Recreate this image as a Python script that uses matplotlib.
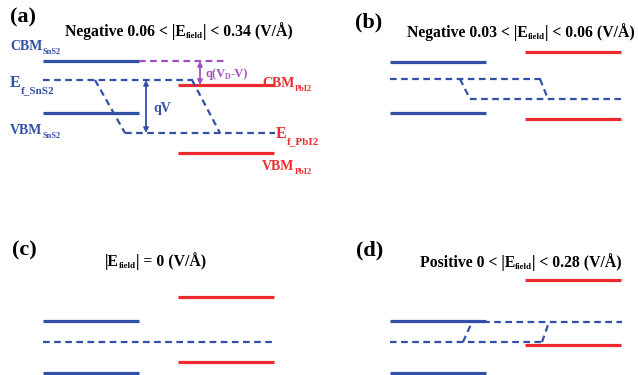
import matplotlib
matplotlib.use('Agg')
import matplotlib.pyplot as plt

plt.rcParams['font.family'] = 'Liberation Serif'
plt.rcParams['font.weight'] = 'bold'

BLUE = '#3350a8'
RED = '#ee2b2e'
MAGENTA = '#a24fc2'

# band levels per panel (a), (b), (c), (d) (pixel units, down = lower energy)
panel_tags = ['(a)', '(b)', '(c)', '(d)']
title_head = ['Negative 0.06 < |E', 'Negative 0.03 < |E', '|E', 'Positive 0 < |E']
title_tail = ['| < 0.34 (V/Å)', '| < 0.06 (V/Å)', '| = 0 (V/Å)', '| < 0.28 (V/Å)']
sns2_cbm = [61, 62, 321, 321]
sns2_ef = [80, 79, 342, 342]
sns2_vbm = [113, 113, 373, 373]
pbi2_cbm = [85, 52, 297, 280]
pbi2_ef = [133, 99, 342, 322]
pbi2_vbm = [153, 119, 362, 345]
# x where the Fermi level bends (left and right bends)
bend_left = [95, 113, 116, 116]
bend_right = [192, 193, 195, 195]
bend_width = [30, 10, 0, 9]

# layout
x_shift = [0, 347, 0, 347]
tag_pos = [(10, 17), (355, 22), (12, 250), (356, 250)]
title_pos = [(65, 36.5), (407, 37), (105, 266), (420, 267)]
left_band = (43, 139)
right_band = (178, 274)

fig = plt.figure(figsize=(6.38, 3.75), dpi=100)
ax = fig.add_axes([0, 0, 1, 1])
ax.set_xlim(0, 638)
ax.set_ylim(375, 0)
ax.axis('off')
renderer = fig.canvas.get_renderer()


def rich(x, y, parts, color='black'):
    # chain text pieces left to right; dy moves a piece down (subscripts)
    for s, size, dy in parts:
        t = ax.text(x, y + dy, s, fontsize=size, color=color, va='baseline', ha='left')
        x += t.get_window_extent(renderer).width


dash = (0, (3, 2))
for i in range(4):
    s = x_shift[i]
    # solid band edges
    ax.plot([left_band[0] + s, left_band[1] + s], [sns2_cbm[i]] * 2, color=BLUE, lw=2.3, solid_capstyle='butt')
    ax.plot([left_band[0] + s, left_band[1] + s], [sns2_vbm[i]] * 2, color=BLUE, lw=2.3, solid_capstyle='butt')
    ax.plot([right_band[0] + s, right_band[1] + s], [pbi2_cbm[i]] * 2, color=RED, lw=2.3, solid_capstyle='butt')
    ax.plot([right_band[0] + s, right_band[1] + s], [pbi2_vbm[i]] * 2, color=RED, lw=2.3, solid_capstyle='butt')

    # Fermi levels
    if sns2_ef[i] == pbi2_ef[i]:
        ax.plot([left_band[0] + s, right_band[1] + s - 1], [sns2_ef[i]] * 2, color=BLUE, lw=1.6, ls=dash)
    else:
        w = bend_width[i]
        ax.plot([left_band[0] + s, bend_right[i] + s + 1], [sns2_ef[i]] * 2, color=BLUE, lw=1.6, ls=dash)
        ax.plot([bend_left[i] + w + s, right_band[1] + s + 1], [pbi2_ef[i]] * 2, color=BLUE, lw=1.6, ls=dash)
        ax.plot([bend_left[i] + s, bend_left[i] + w + s], [sns2_ef[i], pbi2_ef[i]], color=BLUE, lw=1.6, ls=dash)
        ax.plot([bend_right[i] + s, bend_right[i] + w - 2 + s], [sns2_ef[i], pbi2_ef[i]], color=BLUE, lw=1.6, ls=dash)

    ax.text(tag_pos[i][0], tag_pos[i][1], panel_tags[i], fontsize=16, va='center', ha='left')
    rich(title_pos[i][0], title_pos[i][1],
         [(title_head[i], 11.3, 0), ('field', 6.5, 2), (title_tail[i], 11.3, 0)])

# extra annotations in panel (a)
ax.plot([left_band[1], 225], [sns2_cbm[0]] * 2, color=MAGENTA, lw=1.6, ls=dash)
ax.annotate('', xy=(146, sns2_ef[0]), xytext=(146, pbi2_ef[0]),
            arrowprops=dict(arrowstyle='<|-|>', color=BLUE, lw=1.3, mutation_scale=7, shrinkA=0, shrinkB=0))
ax.annotate('', xy=(200, sns2_cbm[0]), xytext=(200, pbi2_cbm[0]),
            arrowprops=dict(arrowstyle='<|-|>', color=MAGENTA, lw=1.3, mutation_scale=7, shrinkA=0, shrinkB=0))
rich(153, 112, [('qV', 10, 0)], BLUE)
rich(205, 77, [('q(V', 9, 0), ('D', 5.5, 2), ('-V)', 9, 0)], MAGENTA)

rich(10, 50, [('CBM', 10, 0), ('SnS2', 6, 4)], BLUE)
rich(10, 87, [('E', 11.5, 0), ('f_SnS2', 8, 6)], BLUE)
rich(10, 134, [('VBM', 10, 0), ('SnS2', 6, 4)], BLUE)
rich(262, 87, [('CBM', 10, 0), ('PbI2', 6, 4)], RED)
rich(276, 138, [('E', 11.5, 0), ('f_PbI2', 8, 6)], RED)
rich(262, 170, [('VBM', 10, 0), ('PbI2', 6, 4)], RED)

fig.savefig('out.png', dpi=100)
